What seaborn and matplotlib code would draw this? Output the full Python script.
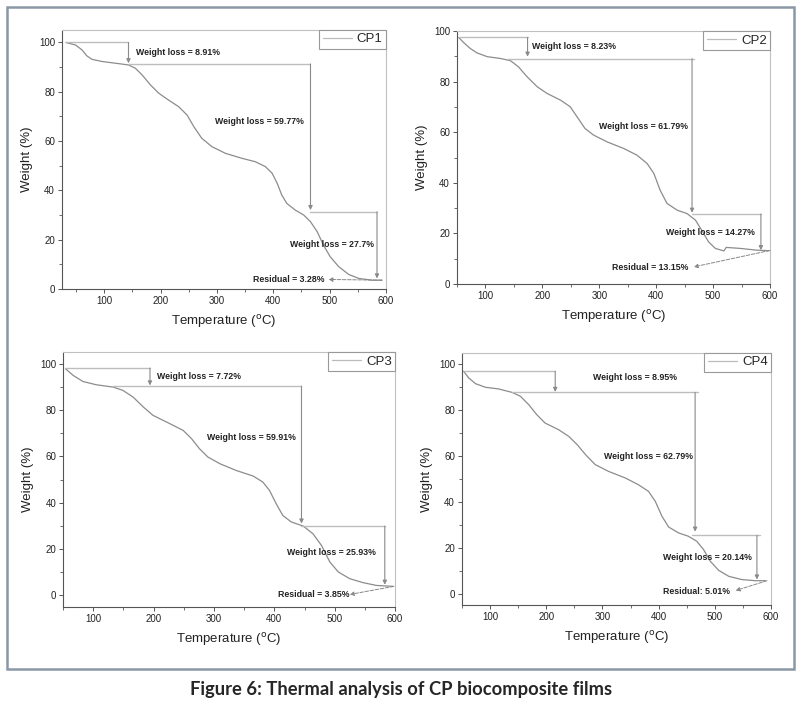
import numpy as np
import pandas as pd
import matplotlib.pyplot as plt
import matplotlib.patches as mpatches
from matplotlib.ticker import MultipleLocator
import seaborn as sns

# --- TGA curves (temperature in C, weight in %) ---
temp_cp1 = [32, 49, 60.5, 69, 78, 96, 120, 143, 155, 167, 182, 197, 214, 232, 247, 259, 273,
            291, 315, 344, 368, 386, 398, 407, 415, 424, 439, 454, 466, 478, 489, 501, 516,
            534, 552, 575, 593]
weight_cp1 = [99.9, 98.9, 96.9, 94.5, 93.1, 92.2, 91.5, 90.8, 89.5, 86.8, 82.7, 79.3, 76.6,
              73.9, 70.5, 65.8, 61.1, 57.7, 55, 53, 51.6, 49.6, 46.9, 42.8, 38.1, 34.7, 32,
              30, 27.3, 23.2, 17.8, 13.1, 9.1, 5.9, 4.3, 3.6, 3.6]

temp_cp2 = [53, 62, 73, 85, 103, 126, 144, 158, 173, 191, 208, 232, 249, 261, 275, 290, 314,
            343, 366, 384, 396, 407, 419, 437, 454, 469, 480, 492, 504, 519, 523, 548, 577, 598]
weight_cp2 = [97.5, 95.4, 93.2, 91.4, 89.9, 89.2, 88.3, 85.9, 82, 78, 75.4, 72.7, 70.1, 66.1,
              61.5, 58.9, 56.2, 53.6, 51, 47.7, 43.7, 37.1, 31.9, 29.2, 27.9, 25.3, 21.3,
              16.7, 14.1, 13.1, 14.5, 14.1, 13.4, 13.2]

temp_cp3 = [54, 67, 83, 105, 133, 149, 166, 183, 199, 227, 249, 263, 276, 290, 310, 337, 365,
            381, 392, 403, 414, 428, 448, 464, 478, 492, 506, 525, 547, 569, 597]
weight_cp3 = [97.8, 94.9, 92.3, 90.9, 89.9, 88.5, 85.6, 81.3, 77.7, 74.1, 71.2, 67.6, 63.3,
              59.7, 56.8, 53.9, 51.5, 48.9, 45.3, 39.6, 34.5, 31.7, 29.9, 26.6, 21.6, 14.4,
              10.1, 7.2, 5.5, 4.3, 3.9]

temp_cp4 = [53, 62, 74, 92, 115, 139, 154, 169, 183, 198, 222, 240, 255, 270, 287, 311, 341,
            364, 382, 394, 406, 418, 436, 453, 468, 480, 492, 507, 525, 548, 572, 590]
weight_cp4 = [97, 94.1, 91.6, 90, 89.3, 87.8, 86.1, 82.4, 78.1, 74.4, 71.5, 68.6, 65, 60.6,
              56.3, 53.3, 50.4, 47.5, 44.6, 40.3, 33.7, 29, 26.4, 25, 22.8, 19.2, 14.1, 10.1,
              7.5, 6.1, 5.6, 5.6]

names = ["CP1", "CP2", "CP3", "CP4"]

# step levels (%), arrow temperatures, start of each horizontal guide
levels = [[99.9, 91.2, 31.3, 4.3], [97.5, 89.1, 27.7, 13.4], [98.1, 90.3, 29.9, 4.6],
          [97, 87.8, 25.4, 6.1]]
arrow_ends = [[91.5, 32, 4.3], [89.9, 28.2, 13.4], [90.6, 31, 4.6], [88, 27, 6.1]]
arrow_t = [[143, 466, 584], [174, 463, 584], [194, 445, 583], [216, 465, 575]]
start_t = [[32, 143, 466], [53, 138, 463], [54, 133, 445], [53, 139, 459]]
end_t = [[143, 466, 584], [174, 466, 584], [194, 445, 583], [216, 471, 581]]

loss_labels = [["Weight loss = 8.91%", "Weight loss = 59.77%", "Weight loss = 27.7%"],
               ["Weight loss = 8.23%", "Weight loss = 61.79%", "Weight loss = 14.27%"],
               ["Weight loss = 7.72%", "Weight loss = 59.91%", "Weight loss = 25.93%"],
               ["Weight loss = 8.95%", "Weight loss = 62.79%", "Weight loss = 20.14%"]]
loss_xy = [[(230, 95.8), (375, 67.8), (504, 18.1)],
           [(256, 93.8), (377, 62.2), (496, 20.4)],
           [(275, 94.6), (362, 68.2), (495, 18.7)],
           [(358, 94.4), (382, 59.6), (487, 15.8)]]

residual_labels = ["Residual = 3.28%", "Residual = 13.15%", "Residual = 3.85%", "Residual: 5.01%"]
residual_xy = [(427, 3.9), (390, 6.4), (466, 0.3), (468, 1.0)]
residual_from = [(593, 3.6), (600, 13.3), (598, 3.9), (593, 5.6)]
residual_to = [(498, 3.9), (466, 6.8), (525, 0.4), (537, 1.3)]

xlims = [(25, 600), (50, 600), (50, 600), (50, 600)]
ylims = [(0, 105), (0, 100), (-5, 105), (-5, 105)]

# axes boxes in figure fractions
boxes = [[0.0773, 0.594, 0.404, 0.364],
         [0.5698, 0.601, 0.3903, 0.3553],
         [0.0786, 0.1475, 0.414, 0.358],
         [0.576, 0.1503, 0.3853, 0.354]]

sns.set_style("ticks")
plt.rcParams['font.family'] = ['Liberation Sans', 'DejaVu Sans']

fig = plt.figure(figsize=(8.02, 7.12), dpi=100)

curves = [(temp_cp1, weight_cp1), (temp_cp2, weight_cp2), (temp_cp3, weight_cp3), (temp_cp4, weight_cp4)]

guide_c = '#bdbdbd'
for i, (t, w) in enumerate(curves):
    ax = fig.add_axes(boxes[i])
    df = pd.DataFrame({"Temperature": t, "Weight": w})
    sns.lineplot(data=df, x="Temperature", y="Weight", ax=ax, color='#8c8c8c', lw=0.9,
                 label=names[i], sort=False)

    lv = levels[i]
    for k in range(3):
        ax.plot([start_t[i][k], end_t[i][k]], [lv[k], lv[k]], color=guide_c, lw=1.0)
        ax.annotate("", xy=(arrow_t[i][k], arrow_ends[i][k]), xytext=(arrow_t[i][k], lv[k]),
                    arrowprops=dict(arrowstyle='-|>', color='#8a8a8a', lw=0.8,
                                    mutation_scale=6, shrinkA=0, shrinkB=0))
        ax.text(*loss_xy[i][k], loss_labels[i][k], ha='center', va='center',
                fontsize=6.3, fontweight='bold', color='#222222')
    ax.annotate("", xy=residual_to[i], xytext=residual_from[i],
                arrowprops=dict(arrowstyle='-|>', color='#888888', lw=0.7, ls='--',
                                mutation_scale=6, shrinkA=0, shrinkB=0))
    ax.text(*residual_xy[i], residual_labels[i], ha='center', va='center',
            fontsize=6.3, fontweight='bold', color='#222222')

    ax.set_xlim(*xlims[i])
    ax.set_ylim(*ylims[i])
    ax.xaxis.set_major_locator(MultipleLocator(100))
    ax.xaxis.set_minor_locator(MultipleLocator(50))
    ax.yaxis.set_minor_locator(MultipleLocator(10))
    ax.set_yticks([0, 20, 40, 60, 80, 100])
    ax.tick_params(which='major', direction='out', length=3, width=0.7, labelsize=7,
                   color='#555555', labelcolor='#222222', pad=2)
    ax.tick_params(which='minor', direction='out', length=2, width=0.6, color='#555555')
    for side in ['left', 'bottom']:
        ax.spines[side].set_color('#555555')
        ax.spines[side].set_linewidth(0.8)
    for side in ['top', 'right']:
        ax.spines[side].set_color('#c0c0c0')
        ax.spines[side].set_linewidth(0.8)
    ax.set_xlabel("Temperature ($^{\\rm o}$C)", fontsize=9.5, color='#222222', labelpad=5)
    ax.set_ylabel("Weight (%)", fontsize=9.5, color='#222222', labelpad=4)

    leg = ax.legend(loc='upper right', borderaxespad=0, fancybox=False, framealpha=1,
                    edgecolor='#999999', fontsize=9.5, handlelength=2.2, borderpad=0.25,
                    handletextpad=0.4)
    leg.get_frame().set_linewidth(0.8)
    for line in leg.get_lines():
        line.set_color('#bbbbbb')

# outer frame and caption
fig.patches.append(mpatches.Rectangle((0.0087, 0.0604), 0.981, 0.930, transform=fig.transFigure,
                                      fill=False, edgecolor='#8a98a5', lw=1.8))
fig.text(0.5, 0.031, "Figure 6: Thermal analysis of CP biocomposite films", ha='center',
         va='center', fontsize=13.2, fontweight='bold', family=['Lato', 'DejaVu Sans'])

plt.savefig("out.png", dpi=100)
